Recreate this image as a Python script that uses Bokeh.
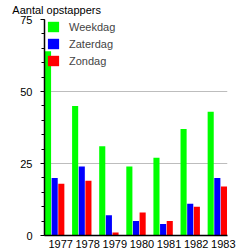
from bokeh.plotting import figure
from bokeh.models import ColumnDataSource, FixedTicker, Legend, LegendItem, LinearAxis
from bokeh.transform import dodge
from bokeh.embed import file_html
from bokeh.resources import INLINE

years = ["1977", "1978", "1979", "1980", "1981", "1982", "1983"]
weekdag = [64, 45, 31, 24, 27, 37, 43]
zaterdag = [20, 24, 7, 5, 4, 11, 20]
zondag = [18, 19, 1, 8, 5, 10, 17]
y_ticks = [0, 25, 50, 75]
title_text = "Aantal  opstappers"

idx = list(range(len(years)))
src = ColumnDataSource(dict(x=idx, weekdag=weekdag, zaterdag=zaterdag, zondag=zondag))

FONT = "Liberation Sans"

p = figure(width=246, height=250, output_backend="svg", toolbar_location=None,
           title=None,
           x_range=(-0.375, 6.375), y_range=(0, 75),
           min_border_left=44, min_border_right=19, min_border_top=17, min_border_bottom=13)
p.outline_line_color = None
p.background_fill_color = "white"
p.border_fill_color = "white"

w = 0.225
r1 = p.vbar(x=dodge("x", -0.245, range=p.x_range), top="weekdag", width=w, source=src,
            fill_color="#00ff00", line_color=None)
r2 = p.vbar(x=dodge("x", 0.0, range=p.x_range), top="zaterdag", width=w, source=src,
            fill_color="#0000ff", line_color=None)
r3 = p.vbar(x=dodge("x", 0.245, range=p.x_range), top="zondag", width=w, source=src,
            fill_color="#ff0000", line_color=None)

# axes
xa = p.xaxis[0]
lab_pos = [i + 0.22 for i in idx]
xa.ticker = FixedTicker(ticks=lab_pos)
xa.major_label_overrides = {lp: y for lp, y in zip(lab_pos, years)}
xa.major_tick_out = 0
xa.major_tick_in = 0
xa.minor_tick_out = 0
xa.minor_tick_in = 0
xa.axis_line_color = "black"
xa.axis_line_width = 1.5
xa.major_label_standoff = 4
xa.major_label_text_font = FONT
xa.major_label_text_font_size = "11px"
xa.major_label_text_color = "black"

ya = p.yaxis[0]
ya.ticker = FixedTicker(ticks=y_ticks, minor_ticks=list(range(0, 76, 5)))
ya.major_tick_out = 4
ya.major_tick_in = 0
ya.minor_tick_out = 3
ya.minor_tick_in = 0
ya.axis_line_color = "black"
ya.axis_line_width = 1.5
ya.major_label_standoff = 8
ya.major_label_text_font = FONT
ya.major_label_text_font_size = "11px"
ya.major_label_text_color = "black"

# title drawn as a single-label axis above the frame
title_pos = 0.13
ta = LinearAxis(ticker=FixedTicker(ticks=[title_pos]),
                major_label_overrides={title_pos: title_text},
                axis_line_color=None, major_tick_out=0, major_tick_in=0,
                minor_tick_out=0, minor_tick_in=0,
                major_label_standoff=4,
                major_label_text_font=FONT, major_label_text_font_size="11px",
                major_label_text_color="black")
p.add_layout(ta, "above")

p.xgrid.grid_line_color = None
p.ygrid.grid_line_color = "#bdbdbd"
p.ygrid.ticker = FixedTicker(ticks=[25, 50, 75])

legend = Legend(items=[LegendItem(label="Weekdag", renderers=[r1]),
                       LegendItem(label="Zaterdag", renderers=[r2]),
                       LegendItem(label="Zondag", renderers=[r3])],
                location=(2, 168), padding=0, margin=0, spacing=4,
                glyph_width=14, glyph_height=13, label_height=13, label_standoff=9,
                border_line_color=None, background_fill_alpha=0,
                label_text_font=FONT, label_text_font_size="11px")
p.add_layout(legend, "center")

open("out.html", "w").write(file_html(p, INLINE))
